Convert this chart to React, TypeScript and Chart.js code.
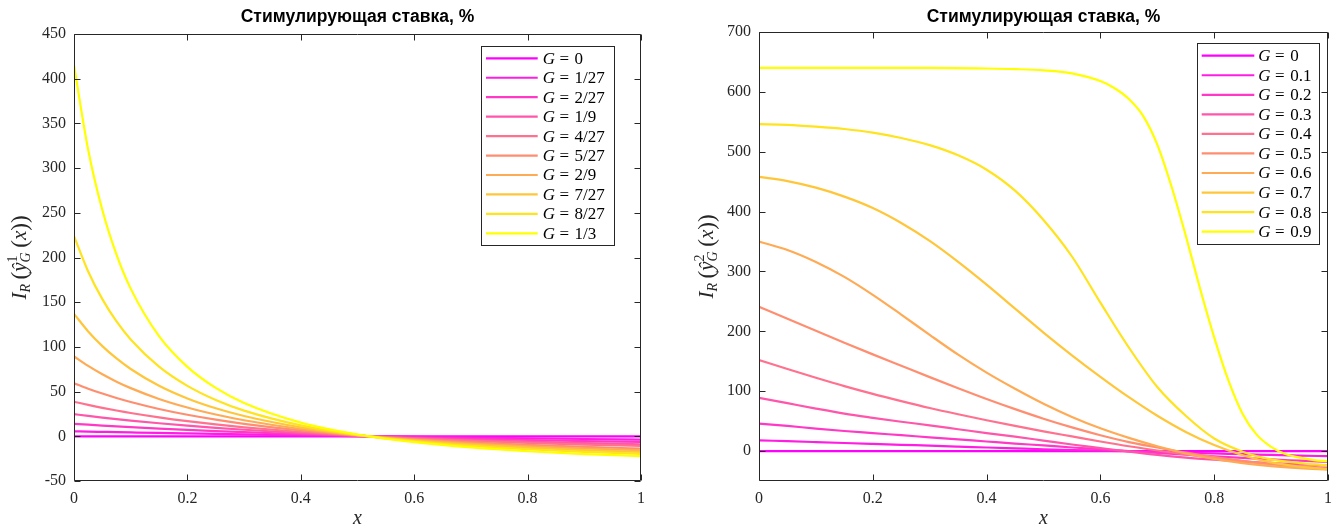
import React, { useEffect, useRef } from "react";
import { Chart, registerables } from "chart.js";

Chart.register(...registerables);

// ---------------- data: left chart ----------------
const leftX = [0, 0.025, 0.05, 0.075, 0.1, 0.15, 0.2, 0.25, 0.3, 0.4, 0.5, 0.6, 0.7, 0.8, 0.9, 1.0];
const leftLabels = ["0", "1/27", "2/27", "1/9", "4/27", "5/27", "2/9", "7/27", "8/27", "1/3"];
const leftG0 = [0, 0, 0, 0, 0, 0, 0, 0, 0, 0, 0, 0, 0, 0, 0, 0];
const leftG1 = [5.59, 5.27, 4.96, 4.65, 4.35, 3.76, 3.2, 2.65, 2.12, 1.12, 0.18, -0.7, -1.52, -2.29, -3.01, -3.69];
const leftG2 = [13.92, 12.95, 12.01, 11.12, 10.27, 8.66, 7.18, 5.82, 4.56, 2.31, 0.36, -1.34, -2.82, -4.13, -5.29, -6.32];
const leftG3 = [24.8, 22.82, 20.97, 19.22, 17.58, 14.57, 11.89, 9.49, 7.33, 3.61, 0.55, -2.01, -4.17, -6.0, -7.58, -8.94];
const leftG4 = [38.69, 35.11, 31.84, 28.83, 26.05, 21.13, 16.9, 13.25, 10.07, 4.82, 0.71, -2.56, -5.22, -7.4, -9.23, -10.76];
const leftG5 = [59.4, 53.29, 47.79, 42.84, 38.35, 30.57, 24.09, 18.63, 13.99, 6.57, 0.96, -3.39, -6.82, -9.57, -11.82, -13.68];
const leftG6 = [89.49, 78.7, 69.32, 61.11, 53.89, 41.81, 32.19, 24.4, 18.0, 8.2, 1.17, -4.06, -8.05, -11.16, -13.63, -15.63];
const leftG7 = [137.0, 117.3, 100.9, 87.07, 75.32, 56.54, 42.35, 31.36, 22.68, 10.02, 1.39, -4.75, -9.28, -12.71, -15.37, -17.49];
const leftG8 = [224.0, 184.4, 153.4, 128.5, 108.4, 77.96, 56.44, 40.66, 28.75, 12.27, 1.66, -5.56, -10.69, -14.48, -17.34, -19.57];
const leftG9 = [415.0, 320.6, 253.1, 203.2, 165.2, 112.1, 77.7, 54.1, 37.25, 15.27, 2.01, -6.59, -12.49, -16.71, -19.83, -22.21];

const leftYTicks = [-50, 0, 50, 100, 150, 200, 250, 300, 350, 400, 450];
const leftYTickLabels = ["-50", "0", "50", "100", "150", "200", "250", "300", "350", "400", "450"];

// ---------------- data: right chart ----------------
const rightX = [0, 0.05, 0.1, 0.15, 0.2, 0.25, 0.3, 0.35, 0.4, 0.45, 0.5, 0.55, 0.6, 0.65, 0.7, 0.75, 0.8, 0.85, 0.9, 0.95, 1.0];
const rightXFine = [0, 0.1, 0.2, 0.3, 0.4, 0.45, 0.5, 0.55, 0.6, 0.625, 0.65, 0.675, 0.7, 0.725, 0.75, 0.775, 0.8, 0.825, 0.85, 0.875, 0.9, 0.925, 0.95, 0.975, 1.0];
const rightLabels = ["0", "0.1", "0.2", "0.3", "0.4", "0.5", "0.6", "0.7", "0.8", "0.9"];
const rightG0 = [0, 0, 0, 0, 0, 0, 0, 0, 0, 0, 0, 0, 0, 0, 0, 0, 0, 0, 0, 0, 0];
const rightG1 = [18, 16.5, 15, 13.5, 12, 10.5, 9, 7.5, 6, 4.5, 3, 1.8, 0.8, -0.2, -1.5, -2.7, -4, -5.2, -6.5, -7.6, -8.6];
const rightG2 = [46, 42, 37.5, 33.5, 30, 26.5, 23, 19.5, 16, 12.5, 9.5, 6, 3, 0, -3, -6, -9, -11.5, -14, -16, -18];
const rightG3 = [89, 80, 71, 62.5, 55.5, 49, 43, 36.5, 30, 24, 17.5, 11, 5, -1, -6.5, -11, -14.5, -17.5, -20, -22, -24];
const rightG4 = [152, 137, 122.5, 108.5, 95.5, 83.5, 72, 61.5, 51.5, 42, 33, 24.5, 16, 8, 1, -5.5, -11.5, -17, -21.5, -25, -28];
const rightG5 = [241, 221, 201, 181, 161.5, 142.5, 123.5, 105, 87, 70, 54, 39.5, 26.5, 15, 6, -2.5, -10, -16.5, -22, -26.5, -30];
const rightG6 = [350, 336, 316, 291, 261, 228, 194, 161, 131, 104, 79, 57, 38, 22, 8, -4, -13, -20, -25, -28.5, -31];
const rightG7 = [458, 451, 440, 425, 406, 381, 351, 316, 278, 238, 198, 160, 124, 90, 59, 32, 10, -7, -19, -26, -30];
const rightG8 = [546, 545, 542, 538, 532, 523, 511, 494, 470, 435, 386, 325, 248, 173, 107, 59, 21, -1, -14, -20, -24];
const rightG9 = [640, 640, 640, 640, 639, 638, 636, 631, 618, 606, 588, 560, 512, 442, 360, 272, 190, 118, 62, 27, 7, -5, -11, -15, -17];

const rightYTicks = [0, 100, 200, 300, 400, 500, 600, 700];
const rightYTickLabels = ["0", "100", "200", "300", "400", "500", "600", "700"];

const xTicks = [0, 0.2, 0.4, 0.6, 0.8, 1];
const xTickLabels = ["0", "0.2", "0.4", "0.6", "0.8", "1"];

const titleText = "Стимулирующая ставка, %";

// ---------------- styling ----------------
const AXIS_COLOR = "#262626";
const SERIF = "'Liberation Serif', 'Times New Roman', serif";
const SANS = "'Liberation Sans', Arial, sans-serif";

function springColor(i: number, n: number) {
  const t = i / (n - 1);
  return `rgb(255, ${Math.round(255 * t)}, ${Math.round(255 * (1 - t))})`;
}

type Run = { t: string; font: string; dy?: number; noAdvance?: boolean };

function drawRuns(ctx: CanvasRenderingContext2D, runs: Run[], cx: number, cy: number) {
  const widths = runs.map((r) => {
    ctx.font = r.font;
    return ctx.measureText(r.t).width;
  });
  const pos: number[] = [];
  let x = 0;
  for (let i = 0; i < runs.length; i++) {
    pos.push(x);
    if (runs[i].noAdvance) continue;
    let w = widths[i];
    if (i > 0 && runs[i - 1].noAdvance) w = Math.max(w, widths[i - 1]);
    x += w;
  }
  const x0 = cx - x / 2;
  runs.forEach((r, i) => {
    ctx.font = r.font;
    ctx.fillText(r.t, x0 + pos[i], cy + (r.dy || 0));
  });
}

function yLabelRuns(sup: string): Run[] {
  const big = `italic 21px ${SERIF}`;
  const paren = `23px ${SERIF}`;
  const small = `14px ${SERIF}`;
  const smallIt = `italic 14px ${SERIF}`;
  return [
    { t: "I", font: big },
    { t: "R", font: smallIt, dy: 4 },
    { t: "\u2009(", font: paren, dy: 1 },
    { t: "ŷ", font: big },
    { t: sup, font: small, dy: -9, noAdvance: true },
    { t: "G", font: smallIt, dy: 4 },
    { t: "\u2009(", font: paren, dy: 1 },
    { t: "x", font: big },
    { t: "))", font: paren, dy: 1 },
  ];
}

type LegendGeom = {
  rightOff: number; topOff: number; w: number; h: number;
  row0: number; step: number; l0: number; l1: number; tx: number;
};

function makeDecor(cfg: {
  yTicks: number[];
  legend: LegendGeom;
  labels: string[];
  colors: string[];
  yLabelX: number;
  sup: string;
}) {
  return {
    id: "decor",
    afterDraw(chart: any) {
      const { ctx, chartArea: a, scales } = chart;
      const xs = scales.x;
      const ys = scales.y;
      ctx.save();
      // axes box and inward ticks
      ctx.strokeStyle = AXIS_COLOR;
      ctx.lineWidth = 1;
      const L = Math.round(a.left) + 0.5;
      const R = Math.round(a.right) - 0.5;
      const T = Math.round(a.top) + 0.5;
      const B = Math.round(a.bottom) - 0.5;
      ctx.beginPath();
      ctx.rect(L, T, R - L, B - T);
      for (const v of xTicks) {
        const p = Math.round(xs.getPixelForValue(v)) + 0.5;
        ctx.moveTo(p, B); ctx.lineTo(p, B - 6);
        ctx.moveTo(p, T); ctx.lineTo(p, T + 6);
      }
      for (const v of cfg.yTicks) {
        const p = Math.round(ys.getPixelForValue(v)) + 0.5;
        ctx.moveTo(L, p); ctx.lineTo(L + 6, p);
        ctx.moveTo(R, p); ctx.lineTo(R - 6, p);
      }
      ctx.stroke();

      // legend
      const g = cfg.legend;
      const bx = a.right - g.rightOff - g.w;
      const by = a.top + g.topOff;
      ctx.fillStyle = "#ffffff";
      ctx.fillRect(bx, by, g.w, g.h);
      ctx.strokeStyle = AXIS_COLOR;
      ctx.lineWidth = 1;
      ctx.strokeRect(Math.round(bx) + 0.5, Math.round(by) + 0.5, Math.round(g.w), Math.round(g.h));
      ctx.textBaseline = "middle";
      ctx.textAlign = "left";
      cfg.labels.forEach((lab, i) => {
        const y = by + g.row0 + i * g.step;
        ctx.strokeStyle = cfg.colors[i];
        ctx.lineWidth = 2.2;
        ctx.beginPath();
        ctx.moveTo(bx + g.l0, y);
        ctx.lineTo(bx + g.l1, y);
        ctx.stroke();
        ctx.fillStyle = "#000000";
        let tx = bx + g.tx;
        ctx.font = `italic 17px ${SERIF}`;
        ctx.fillText("G", tx, y + 1);
        tx += ctx.measureText("G").width;
        ctx.font = `17px ${SERIF}`;
        tx += 4.5;
        ctx.fillText("=", tx, y + 1);
        tx += ctx.measureText("=").width + 5.5;
        ctx.fillText(lab, tx, y + 1);
      });

      // title
      ctx.fillStyle = "#000000";
      ctx.textAlign = "center";
      ctx.textBaseline = "middle";
      ctx.font = `bold 17.5px ${SANS}`;
      ctx.fillText(titleText, (a.left + a.right) / 2, 17);

      // x label
      ctx.font = `italic 20px ${SERIF}`;
      ctx.fillStyle = AXIS_COLOR;
      ctx.fillText("x", (a.left + a.right) / 2, 519);

      // y label
      ctx.save();
      ctx.translate(cfg.yLabelX, (a.top + a.bottom) / 2);
      ctx.rotate(-Math.PI / 2);
      ctx.textAlign = "left";
      ctx.textBaseline = "alphabetic";
      ctx.fillStyle = AXIS_COLOR;
      drawRuns(ctx, yLabelRuns(cfg.sup), 0, 0);
      ctx.restore();

      ctx.restore();
    },
  };
}

function buildConfig(p: {
  xsList: number[][];
  series: number[][];
  labels: string[];
  yMin: number;
  yMax: number;
  yTicks: number[];
  yTickLabels: string[];
  yWidth: number;
  padTop: number;
  padRight: number;
  legend: LegendGeom;
  yLabelX: number;
  sup: string;
}) {
  const n = p.series.length;
  const colors = p.series.map((_, i) => springColor(i, n));
  const datasets = p.series.map((ys, i) => ({
    label: "G = " + p.labels[i],
    data: ys.map((y, j) => ({ x: p.xsList[i][j], y })),
    borderColor: colors[i],
    backgroundColor: colors[i],
    borderWidth: 2.2,
    pointRadius: 0,
    fill: false,
    cubicInterpolationMode: "monotone" as const,
    order: n - 1 - i,
  }));
  return {
    type: "line" as const,
    data: { datasets },
    options: {
      responsive: false,
      animation: false as const,
      layout: { padding: { left: 0, top: p.padTop, right: p.padRight, bottom: 0 } },
      plugins: {
        legend: { display: false },
        tooltip: { enabled: false },
        title: { display: false },
      },
      scales: {
        x: {
          type: "linear" as const,
          min: 0,
          max: 1,
          grid: { display: false, drawTicks: false },
          border: { display: false },
          afterBuildTicks: (s: any) => {
            s.ticks = xTicks.map((v) => ({ value: v }));
          },
          afterFit: (s: any) => {
            s.height = 51;
          },
          ticks: {
            padding: 8,
            color: AXIS_COLOR,
            font: { family: SERIF, size: 16 },
            maxRotation: 0,
            callback: (_v: any, i: number) => xTickLabels[i],
          },
        },
        y: {
          type: "linear" as const,
          min: p.yMin,
          max: p.yMax,
          grid: { display: false, drawTicks: false },
          border: { display: false },
          afterBuildTicks: (s: any) => {
            s.ticks = p.yTicks.map((v) => ({ value: v }));
          },
          afterFit: (s: any) => {
            s.width = p.yWidth;
          },
          ticks: {
            padding: 8,
            color: AXIS_COLOR,
            font: { family: SERIF, size: 16 },
            callback: (_v: any, i: number) => p.yTickLabels[i],
          },
        },
      },
    },
    plugins: [
      makeDecor({
        yTicks: p.yTicks,
        legend: p.legend,
        labels: p.labels,
        colors,
        yLabelX: p.yLabelX,
        sup: p.sup,
      }),
    ],
  };
}

function ChartCanvas(props: { build: () => any; left: number; width: number; height: number }) {
  const ref = useRef<HTMLCanvasElement>(null);
  useEffect(() => {
    const chart = new Chart(ref.current as HTMLCanvasElement, props.build());
    return () => chart.destroy();
  }, []);
  return (
    <canvas
      ref={ref}
      width={props.width}
      height={props.height}
      style={{ position: "absolute", left: props.left, top: 0, width: props.width, height: props.height, display: "block" }}
    />
  );
}

export default function App() {
  const leftSeries = [leftG0, leftG1, leftG2, leftG3, leftG4, leftG5, leftG6, leftG7, leftG8, leftG9];
  const rightSeries = [rightG0, rightG1, rightG2, rightG3, rightG4, rightG5, rightG6, rightG7, rightG8, rightG9];

  const buildLeft = () =>
    buildConfig({
      xsList: leftSeries.map(() => leftX),
      series: leftSeries,
      labels: leftLabels,
      yMin: -50,
      yMax: 450,
      yTicks: leftYTicks,
      yTickLabels: leftYTickLabels,
      yWidth: 74,
      padTop: 34,
      padRight: 29,
      legend: { rightOff: 27.7, topOff: 12, w: 132.6, h: 199, row0: 12.3, step: 19.45, l0: 5.3, l1: 57, tx: 62 },
      yLabelX: 26,
      sup: "1",
    });

  const buildRight = () =>
    buildConfig({
      xsList: rightSeries.map((_, i) => (i === 9 ? rightXFine : rightX)),
      series: rightSeries,
      labels: rightLabels,
      yMin: -50,
      yMax: 700,
      yTicks: rightYTicks,
      yTickLabels: rightYTickLabels,
      yWidth: 79,
      padTop: 32,
      padRight: 15,
      legend: { rightOff: 9.7, topOff: 11.3, w: 121.6, h: 200.7, row0: 12.4, step: 19.55, l0: 5, l1: 57.6, tx: 61.6 },
      yLabelX: 33,
      sup: "2",
    });

  return (
    <div style={{ position: "fixed", left: 0, top: 0, width: 1343, height: 532, background: "#ffffff" }}>
      <ChartCanvas build={buildLeft} left={0} width={670} height={532} />
      <ChartCanvas build={buildRight} left={680} width={663} height={532} />
    </div>
  );
}
